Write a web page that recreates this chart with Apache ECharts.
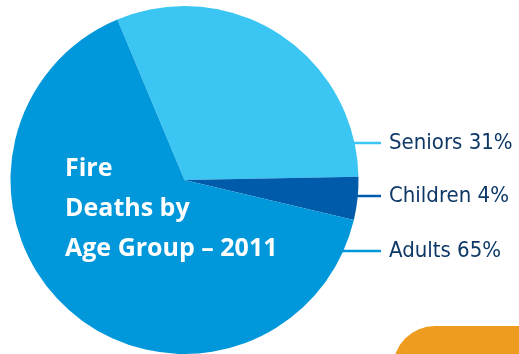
<!DOCTYPE html>
<html>
<head>
<meta charset="utf-8">
<script src="https://cdn.jsdelivr.net/npm/echarts@6/dist/echarts.min.js"></script>
<style>
  html, body { margin: 0; padding: 0; background: #fff; }
  #chart { width: 519px; height: 354px; }
</style>
</head>
<body>
<div id="chart"></div>
<script>
// Fire deaths by age group, 2011 (share of total, %)
const groups = ['Seniors', 'Children', 'Adults'];
const shares = [31, 4, 65];
const sliceColors = ['#3AC5F3', '#005BAA', '#0098DA'];
const labelRows = [143, 196, 251];   // vertical position of each callout

const CX = 184.5, CY = 180, R = 174;
const LINE_END = 381, TEXT_X = 389;

const chart = echarts.init(document.getElementById('chart'), null, { renderer: 'canvas' });

const data = groups.map((g, i) => ({
  name: g,
  value: shares[i],
  itemStyle: { color: sliceColors[i] },
  labelLine: { lineStyle: { color: sliceColors[i], width: 2.5 } }
}));

chart.setOption({
  animation: false,
  title: {
    text: 'Fire\nDeaths by\nAge Group – 2011',
    left: 60,
    top: 144,
    textStyle: {
      color: '#ffffff',
      fontFamily: '"Open Sans", "Noto Sans", sans-serif',
      fontWeight: 'bold',
      fontSize: 25,
      lineHeight: 40
    }
  },
  graphic: [{
    type: 'rect',
    shape: { x: 393, y: 326, width: 160, height: 60, r: [42, 0, 0, 0] },
    style: { fill: '#EE9C20' },
    z: -1
  }],
  series: [{
    type: 'pie',
    center: [CX, CY],
    radius: [0, R],
    startAngle: 112.7,
    clockwise: true,
    avoidLabelOverlap: false,
    itemStyle: { borderWidth: 0 },
    label: {
      show: true,
      formatter: p => p.name + ' ' + p.value + '%',
      color: '#0E3866',
      fontFamily: '"Liberation Sans Narrow", "DejaVu Sans Condensed", "Noto Sans", sans-serif',
      fontSize: 22
    },
    labelLine: { show: true },
    labelLayout: function (params) {
      const y = labelRows[params.dataIndex];
      const dy = y - CY;
      const edgeX = CX + Math.sqrt(R * R - dy * dy);
      return {
        x: TEXT_X,
        y: y,
        align: 'left',
        verticalAlign: 'middle',
        labelLinePoints: [[edgeX - 2, y], [(edgeX + LINE_END) / 2, y], [LINE_END, y]]
      };
    },
    data: data
  }]
});
</script>
</body>
</html>
